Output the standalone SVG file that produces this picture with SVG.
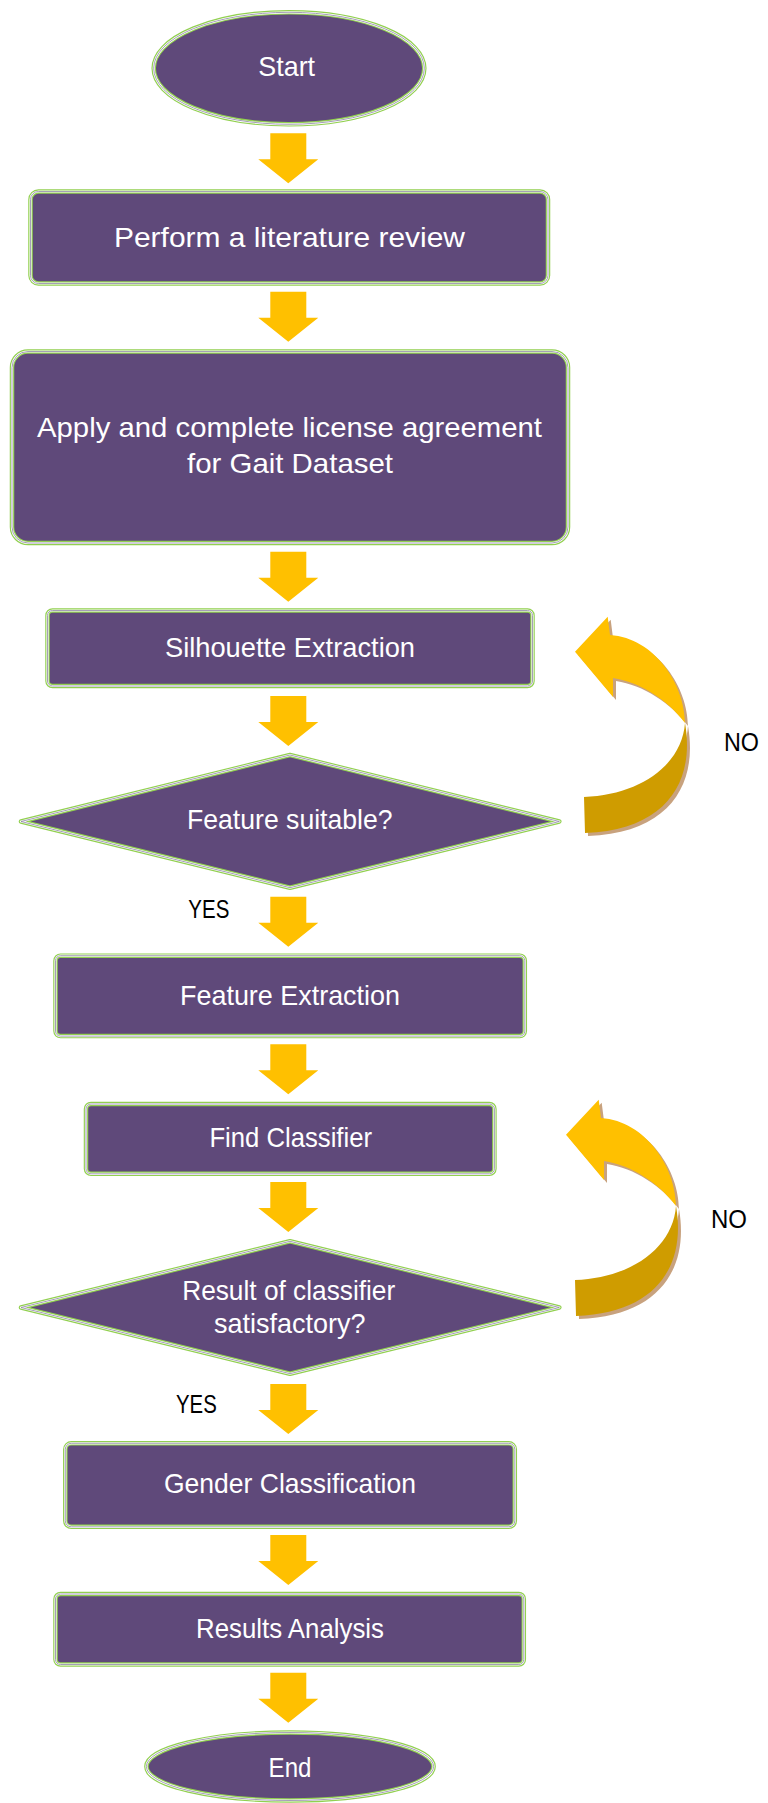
<svg xmlns="http://www.w3.org/2000/svg" xmlns:xlink="http://www.w3.org/1999/xlink" width="768" height="1803" viewBox="0 0 768 1803">
<style>
.b0{fill:#5F497A;stroke:#92D050;stroke-width:4.5;stroke-linejoin:round}
.b1{fill:none;stroke:#FFFFFF;stroke-width:2.2;stroke-linejoin:round}
.b2{fill:none;stroke:#8E84A6;stroke-width:0.8;stroke-linejoin:round}
.t{font-family:"Liberation Sans","Open Sans",sans-serif;font-size:28px;fill:#FFFFFF;text-anchor:middle}
.l{font-family:"Liberation Sans","Open Sans",sans-serif;font-size:25px;fill:#000000;text-anchor:middle}
.down{fill:#FFC000}
.cl{fill:#FFC000}
.cd{fill:#CF9C00}
.cs{fill:#C8A27E}
</style>
<defs>
<path id="downArrow" d="M-18,0 H18 V26 H30 L0,50 L-30,26 H-18 Z"/>
<g id="curved">
<g class="cs" transform="translate(3,3)">
<path d="M575,651.7 L607.7,616.7 L610,635 C655,638 685,685 685,723 C668,700 640,682 613,678 L613,697 Z"/>
<path d="M685,723 C695,780 668,830 585,833 L584,797 C640,795 682,765 685,723 Z"/>
</g>
<path class="cl" d="M575,651.7 L607.7,616.7 L610,635 C655,638 685,685 685,723 C668,700 640,682 613,678 L613,697 Z"/>
<path class="cd" d="M685,723 C695,780 668,830 585,833 L584,797 C640,795 682,765 685,723 Z"/>
</g>
<ellipse id="s-start" cx="289" cy="68.3" rx="135.3" ry="56"/>
<rect id="s-lit" x="30.5" y="191.5" width="517.5" height="92" rx="8"/>
<rect id="s-lic" x="12" y="351.5" width="556" height="191.5" rx="16"/>
<rect id="s-sil" x="47.5" y="610.5" width="485" height="75.5" rx="5"/>
<path id="s-d1" d="M290,755 L559.3,821.5 L290,887.7 L21,821.5 Z"/>
<rect id="s-fe" x="55.5" y="955.7" width="469.3" height="80.4" rx="5"/>
<rect id="s-fc" x="86" y="1104" width="408.4" height="69.8" rx="5"/>
<path id="s-d2" d="M290,1241.3 L559.3,1307.5 L290,1373.7 L21,1307.5 Z"/>
<rect id="s-gc" x="65.3" y="1443.3" width="449.5" height="83.5" rx="6"/>
<rect id="s-ra" x="55.5" y="1594" width="468.3" height="70.5" rx="5"/>
<ellipse id="s-end" cx="290" cy="1766.5" rx="143.6" ry="34"/>
</defs>
<rect width="768" height="1803" fill="#FFFFFF"/>

<g id="connectors">
<use href="#downArrow" class="down" transform="translate(288.3,133.3)"/>
<use href="#downArrow" class="down" transform="translate(288.3,291.7)"/>
<use href="#downArrow" class="down" transform="translate(288.3,551.7)"/>
<use href="#downArrow" class="down" transform="translate(288.3,696)"/>
<use href="#downArrow" class="down" transform="translate(288.3,896.7)"/>
<use href="#downArrow" class="down" transform="translate(288.3,1044.3)"/>
<use href="#downArrow" class="down" transform="translate(288.3,1182)"/>
<use href="#downArrow" class="down" transform="translate(288.3,1384)"/>
<use href="#downArrow" class="down" transform="translate(288.3,1535)"/>
<use href="#downArrow" class="down" transform="translate(288.3,1672.7)"/>
<use href="#curved"/>
<use href="#curved" transform="translate(-9,483)"/>
<text class="l" x="208.8" y="917.7" textLength="41" lengthAdjust="spacingAndGlyphs">YES</text>
<text class="l" x="196.4" y="1412.7" textLength="40.7" lengthAdjust="spacingAndGlyphs">YES</text>
<text class="l" x="741.5" y="751" textLength="35" lengthAdjust="spacingAndGlyphs">NO</text>
<text class="l" x="729" y="1228" textLength="36" lengthAdjust="spacingAndGlyphs">NO</text>
</g>

<g id="start">
<use href="#s-start" class="b0"/><use href="#s-start" class="b1"/><use href="#s-start" class="b2"/>
<text class="t" x="286.7" y="76" textLength="56.7" lengthAdjust="spacingAndGlyphs">Start</text>
</g>
<g id="literature">
<use href="#s-lit" class="b0"/><use href="#s-lit" class="b1"/><use href="#s-lit" class="b2"/>
<text class="t" x="289.5" y="247" textLength="351" lengthAdjust="spacingAndGlyphs">Perform a literature review</text>
</g>
<g id="license">
<use href="#s-lic" class="b0"/><use href="#s-lic" class="b1"/><use href="#s-lic" class="b2"/>
<text class="t" x="289.5" y="437" textLength="505" lengthAdjust="spacingAndGlyphs">Apply and complete license agreement</text>
<text class="t" x="290" y="473" textLength="206" lengthAdjust="spacingAndGlyphs">for Gait Dataset</text>
</g>
<g id="silhouette">
<use href="#s-sil" class="b0"/><use href="#s-sil" class="b1"/><use href="#s-sil" class="b2"/>
<text class="t" x="290" y="657" textLength="250" lengthAdjust="spacingAndGlyphs">Silhouette Extraction</text>
</g>
<g id="decision1">
<use href="#s-d1" class="b0"/><use href="#s-d1" class="b1"/><use href="#s-d1" class="b2"/>
<text class="t" x="289.8" y="829.3" textLength="205.6" lengthAdjust="spacingAndGlyphs">Feature suitable?</text>
</g>
<g id="featureExtraction">
<use href="#s-fe" class="b0"/><use href="#s-fe" class="b1"/><use href="#s-fe" class="b2"/>
<text class="t" x="290" y="1005" textLength="220" lengthAdjust="spacingAndGlyphs">Feature Extraction</text>
</g>
<g id="findClassifier">
<use href="#s-fc" class="b0"/><use href="#s-fc" class="b1"/><use href="#s-fc" class="b2"/>
<text class="t" x="290.7" y="1146.7" textLength="162.6" lengthAdjust="spacingAndGlyphs">Find Classifier</text>
</g>
<g id="decision2">
<use href="#s-d2" class="b0"/><use href="#s-d2" class="b1"/><use href="#s-d2" class="b2"/>
<text class="t" x="288.7" y="1300" textLength="213" lengthAdjust="spacingAndGlyphs">Result of classifier</text>
<text class="t" x="289.8" y="1332.5" textLength="151.5" lengthAdjust="spacingAndGlyphs">satisfactory?</text>
</g>
<g id="gender">
<use href="#s-gc" class="b0"/><use href="#s-gc" class="b1"/><use href="#s-gc" class="b2"/>
<text class="t" x="290" y="1492.7" textLength="252" lengthAdjust="spacingAndGlyphs">Gender Classification</text>
</g>
<g id="results">
<use href="#s-ra" class="b0"/><use href="#s-ra" class="b1"/><use href="#s-ra" class="b2"/>
<text class="t" x="290" y="1637.7" textLength="188" lengthAdjust="spacingAndGlyphs">Results Analysis</text>
</g>
<g id="end">
<use href="#s-end" class="b0"/><use href="#s-end" class="b1"/><use href="#s-end" class="b2"/>
<text class="t" x="290" y="1777.3" textLength="42.8" lengthAdjust="spacingAndGlyphs">End</text>
</g>
</svg>
